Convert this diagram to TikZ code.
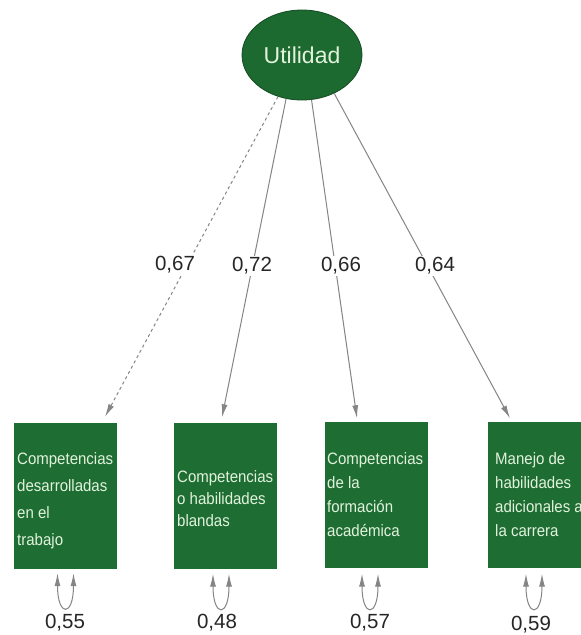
\documentclass[tikz,border=0pt]{standalone}
\usepackage{fontspec}
\setmainfont{Liberation Sans}
\newfontfamily\boxfont[FakeStretch=0.91]{Liberation Sans}
\usetikzlibrary{arrows.meta,shapes.geometric}
\definecolor{boxgreen}{HTML}{1E6E34}
\definecolor{ellgreen}{HTML}{1C6A30}
\definecolor{txtgreen}{HTML}{E2F2DC}
\definecolor{linegray}{HTML}{858585}
\begin{document}
\begin{tikzpicture}[x=1pt,y=-1pt,
 latent/.style={ellipse, fill=ellgreen, draw=ellgreen!70!black, line width=0.8pt, minimum width=120pt, minimum height=90pt, inner sep=0pt, text=txtgreen, font=\fontsize{23}{27}\selectfont},
 obsbox/.style={rectangle, fill=boxgreen, minimum width=103pt, minimum height=146pt, inner sep=0pt},
 boxtext/.style={anchor=north west, align=left, inner sep=0pt, text=txtgreen},
 load/.style={draw=linegray, line width=1pt, -{Latex[length=13pt,width=6pt]}},
 coef/.style={fill=white, inner sep=1.5pt, font=\fontsize{20.5}{24}\selectfont, text=black!85},
 resid/.style={draw=linegray, line width=1pt, {Latex[length=13pt,width=6pt]}-{Latex[length=13pt,width=6pt]}},
]
\useasboundingbox (0,0) rectangle (581,635);
\clip (0,0) rectangle (581,635);
\fill[white] (0,0) rectangle (581,635);

\node[latent] (u) at (302,55) {Utilidad};

\node[obsbox] (b1) at (65.5,496) {};
\node[obsbox] (b2) at (225,495.5) {};
\node[obsbox] (b3) at (376.5,494.5) {};
\node[obsbox] (b4) at (539.5,494.5) {};

\node[boxtext, font=\boxfont\fontsize{16.5}{27}\selectfont] (t1) at (17,452)
  {Competencias\\desarrolladas\\en el\\trabajo};
\node[boxtext, font=\boxfont\fontsize{16.5}{22}\selectfont] (t2) at (177,470)
  {Competencias\\o habilidades\\blandas};
\node[boxtext, font=\boxfont\fontsize{16.5}{24}\selectfont] (t3) at (327,452)
  {Competencias\\de la\\formación\\académica};
\node[boxtext, font=\boxfont\fontsize{16.5}{24}\selectfont] (t4) at (495,452)
  {Manejo de\\habilidades\\adicionales a\\la carrera};

\draw[load, dash pattern=on 3pt off 3pt] (u.-120) -- ([xshift=39.5pt,yshift=6pt]b1.north);
\draw[load] (u.-110) -- ([xshift=-3pt,yshift=5pt]b2.north);
\draw[load] (u.-78) -- ([xshift=-19.5pt,yshift=3pt]b3.north);
\draw[load] (u.-50) -- ([xshift=-29.5pt,yshift=3pt]b4.north);

\node[coef] (c1) at (175,265) {0,67};
\node[coef] (c2) at (252,266) {0,72};
\node[coef] (c3) at (341,266) {0,66};
\node[coef] (c4) at (435,266) {0,64};

\draw[resid] ([xshift=-8pt,yshift=-4pt]b1.south) .. controls +(0,44) and +(0,44) .. ([xshift=8pt,yshift=-4pt]b1.south);
\draw[resid] ([xshift=-12pt,yshift=-5pt]b2.south) .. controls +(0,44) and +(0,44) .. ([xshift=4pt,yshift=-5pt]b2.south);
\draw[resid] ([xshift=-14.5pt,yshift=-6pt]b3.south) .. controls +(0,44) and +(0,44) .. ([xshift=1.5pt,yshift=-6pt]b3.south);
\draw[resid] ([xshift=-13.5pt,yshift=-6pt]b4.south) .. controls +(0,44) and +(0,44) .. ([xshift=2.5pt,yshift=-6pt]b4.south);

\node[coef] (r1) at (65,623) {0,55};
\node[coef] (r2) at (217,623) {0,48};
\node[coef] (r3) at (370,623) {0,57};
\node[coef] (r4) at (531,625) {0,59};
\end{tikzpicture}
\end{document}
